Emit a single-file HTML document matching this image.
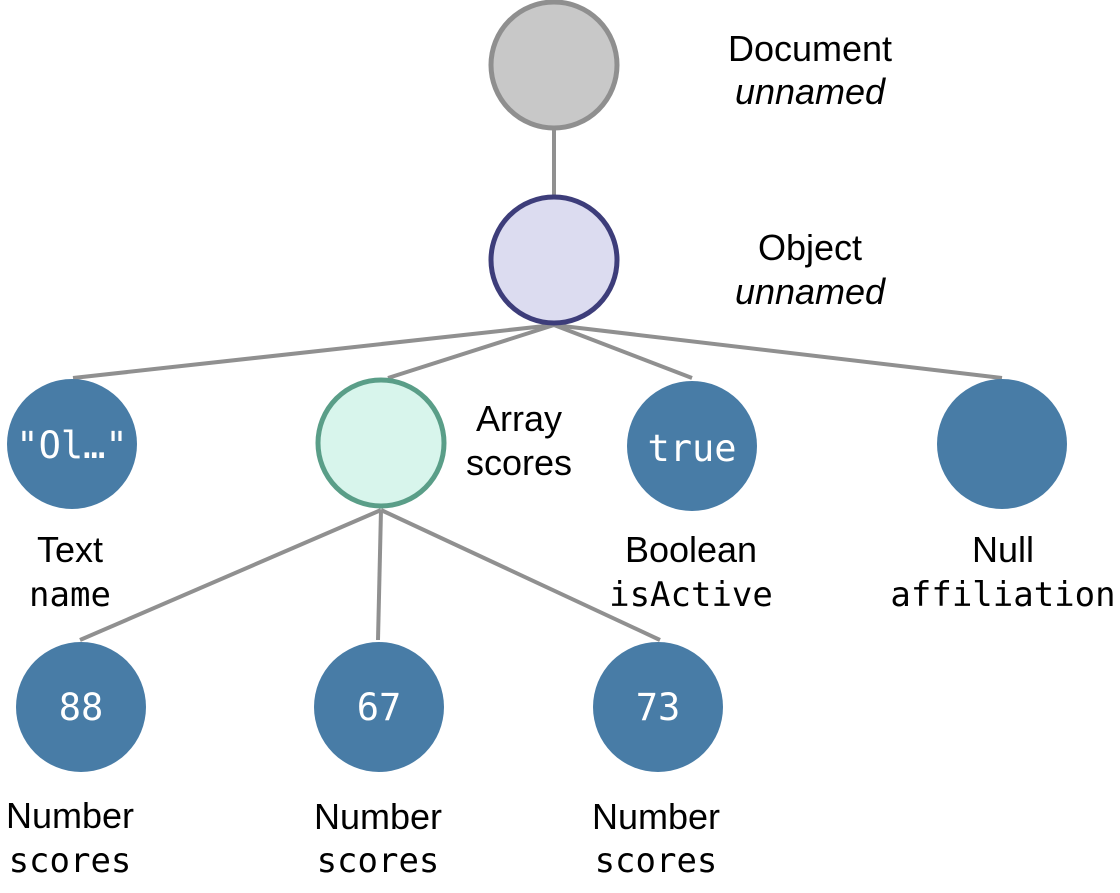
<!DOCTYPE html>
<html><head><meta charset="utf-8"><style>
html,body{margin:0;padding:0;background:#fff;}
svg{display:block;}
.l{font-family:"Liberation Sans","DejaVu Sans",sans-serif;font-size:36px;fill:#000;}
.i{font-style:italic;}
.m{font-family:"DejaVu Sans Mono","Liberation Mono",monospace;font-size:34px;fill:#000;}
.w{font-family:"DejaVu Sans Mono","Liberation Mono",monospace;font-size:37px;fill:#fff;}
</style></head><body>
<svg width="1120" height="893" viewBox="0 0 1120 893" xmlns="http://www.w3.org/2000/svg">
<g stroke="#909090" stroke-width="4" fill="none">
<line x1="554" y1="130" x2="554" y2="195"/>
<line x1="554" y1="325" x2="73" y2="378"/>
<line x1="554" y1="325" x2="388" y2="378"/>
<line x1="554" y1="325" x2="692" y2="378"/>
<line x1="554" y1="325" x2="1002" y2="378"/>
<line x1="381" y1="510" x2="80" y2="640"/>
<line x1="381" y1="510" x2="378" y2="640"/>
<line x1="381" y1="510" x2="660" y2="640"/>
</g>
<circle cx="554" cy="65" r="63" fill="#c8c8c8" stroke="#8f8f8f" stroke-width="5"/>
<circle cx="554" cy="260" r="63" fill="#dcdcf0" stroke="#3d3d7a" stroke-width="5"/>
<circle cx="381" cy="443" r="63" fill="#d8f5ec" stroke="#5a9e88" stroke-width="5"/>
<g fill="#487ca6">
<circle cx="72" cy="444" r="65"/>
<circle cx="692" cy="446" r="65"/>
<circle cx="1002" cy="444" r="65"/>
<circle cx="81" cy="707" r="65"/>
<circle cx="379" cy="707" r="65"/>
<circle cx="658" cy="707" r="65"/>
</g>
<g text-anchor="middle">
<text class="w" x="72" y="458">"Ol…"</text>
<text class="w" x="692" y="461">true</text>
<text class="w" x="81" y="720">88</text>
<text class="w" x="379" y="720">67</text>
<text class="w" x="658" y="720">73</text>
<text class="l" x="810" y="61">Document</text>
<text class="l i" x="810" y="104">unnamed</text>
<text class="l" x="810" y="260">Object</text>
<text class="l i" x="810" y="304">unnamed</text>
<text class="l" x="519" y="431">Array</text>
<text class="l" x="519" y="475">scores</text>
<text class="l" x="70" y="562">Text</text>
<text class="m" x="70" y="606">name</text>
<text class="l" x="691" y="562">Boolean</text>
<text class="m" x="691" y="606">isActive</text>
<text class="l" x="1003" y="562">Null</text>
<text class="m" x="1003" y="606">affiliation</text>
<text class="l" x="70" y="828">Number</text>
<text class="m" x="70" y="872">scores</text>
<text class="l" x="378" y="829">Number</text>
<text class="m" x="378" y="872">scores</text>
<text class="l" x="656" y="829">Number</text>
<text class="m" x="656" y="872">scores</text>
</g>
</svg>
</body></html>
